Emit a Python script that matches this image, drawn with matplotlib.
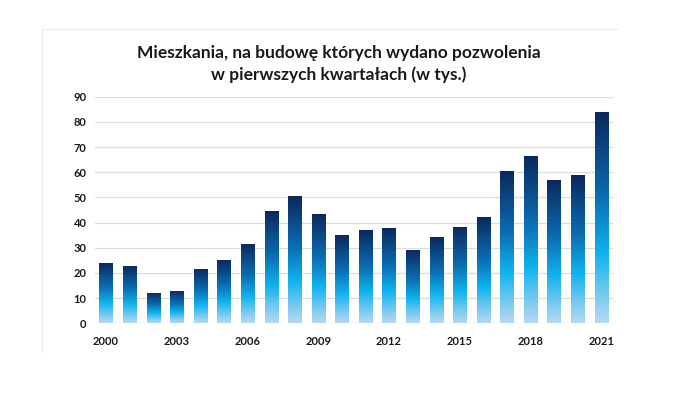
import matplotlib
matplotlib.use("Agg")
import matplotlib.pyplot as plt
import numpy as np
from matplotlib.colors import LinearSegmentedColormap
from matplotlib.lines import Line2D

years = list(range(2000, 2022))
values = [24.1, 22.9, 12.2, 13.0, 21.6, 25.1, 31.5, 44.6, 50.6, 43.4, 35.1,
          37.1, 38.0, 29.1, 34.3, 38.3, 42.2, 60.5, 66.4, 56.9, 58.9, 83.9]
tick_years = [2000, 2003, 2006, 2009, 2012, 2015, 2018, 2021]
yticks = list(range(0, 91, 10))
title = "Mieszkania, na budowę których wydano pozwolenia\nw pierwszych kwartałach (w tys.)"

plt.rcParams['font.family'] = ['Lato', 'DejaVu Sans']

fig = plt.figure(figsize=(6.75, 3.93), dpi=100)
ax = fig.add_axes([95/675, (393-323.3)/393, 518/675, (323.3-96.7)/393])

cmap = LinearSegmentedColormap.from_list(
    "g", [(0.0, '#b6d9f1'), (0.12, '#7fcbf1'), (0.33, '#10b3ef'),
          (0.6, '#0a6cb2'), (1.0, '#0b285c')])
grad = np.linspace(0, 1, 256).reshape(-1, 1)

x = np.arange(len(years))
w = 0.56
bars = ax.bar(x, values, width=w, color='none', edgecolor='none', zorder=3)
for xi, v, b in zip(x, values, bars):
    im = ax.imshow(grad, extent=(xi - w/2, xi + w/2, 0, v), origin='lower',
                   cmap=cmap, aspect='auto', zorder=3, interpolation='bilinear')
    im.set_clip_path(b)

ax.set_xlim(-0.47, 21.5)
ax.set_ylim(0, 90)
ax.set_yticks(yticks)
ax.set_xticks([years.index(t) for t in tick_years])
ax.set_xticklabels([str(t) for t in tick_years])
ax.grid(axis='y', color='#dcdcdc', linewidth=0.9, zorder=0)
ax.set_axisbelow(True)
for s in ax.spines.values():
    s.set_visible(False)
ax.tick_params(axis='both', length=0, labelsize=8)
ax.tick_params(axis='y', pad=6)
ax.tick_params(axis='x', pad=9)
for lab in ax.get_xticklabels() + ax.get_yticklabels():
    lab.set_fontweight('bold')
    lab.set_color('#1a1a1a')

fig.text(339/675, 1 - 64/393, title, ha='center', va='center', fontsize=12.5,
         fontweight='bold', linespacing=1.45, color='#1a1a1a')

# faint chart frame
fig.add_artist(Line2D([42/675, 42/675], [1 - 29/393, 1 - 352/393],
                      transform=fig.transFigure, color='#ececec', lw=0.8))
fig.add_artist(Line2D([42/675, 617/675], [1 - 29/393, 1 - 29/393],
                      transform=fig.transFigure, color='#ececec', lw=0.8))

fig.savefig("out.png", dpi=100)
